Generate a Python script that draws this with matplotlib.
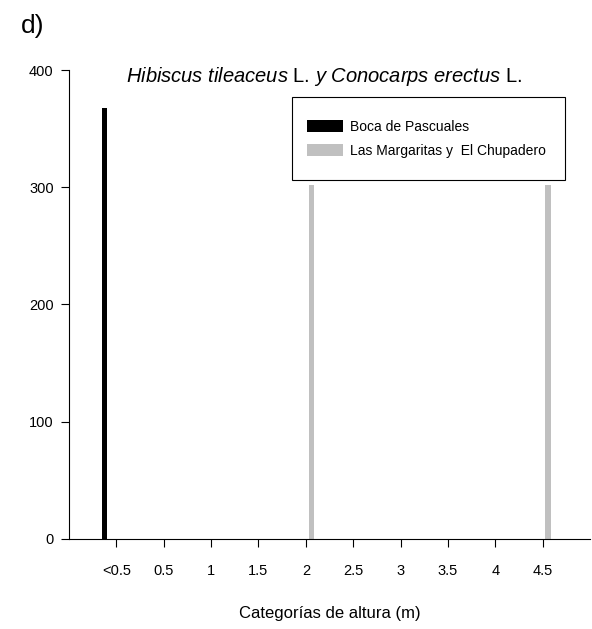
import matplotlib.pyplot as plt
from matplotlib.patches import Rectangle
import numpy as np

plt.rcParams['font.family'] = ['Liberation Sans', 'DejaVu Sans']
plt.rcParams['mathtext.fontset'] = 'custom'
plt.rcParams['mathtext.rm'] = 'Liberation Sans'
plt.rcParams['mathtext.it'] = 'Liberation Sans:italic'

# height categories and counts per site
categorias = ['<0.5', '0.5', '1', '1.5', '2', '2.5', '3', '3.5', '4', '4.5']
boca_pascuales = [368, 0, 0, 0, 0, 0, 0, 0, 0, 0]
margaritas_chupadero = [0, 0, 0, 0, 302, 0, 0, 0, 0, 302]

x = np.arange(len(categorias))

W, H = 592, 629
fig = plt.figure(figsize=(W / 100, H / 100), dpi=100)
ax = fig.add_axes([0.1166, 0.1431, 0.88, 0.7456])

ax.bar(x - 0.25, boca_pascuales, width=0.12, color='black', label='Boca de Pascuales')
ax.bar(x + 0.12, margaritas_chupadero, width=0.12, color='#c0c0c0',
       label='Las Margaritas y  El Chupadero')

ax.set_xlim(-1, 10)
ax.set_ylim(0, 400)
ax.set_xticks(x)
ax.set_xticklabels(categorias, fontsize=10.5)
ax.set_yticks([0, 100, 200, 300, 400])
ax.tick_params(axis='y', labelsize=10.5, length=6, pad=5)
ax.tick_params(axis='x', length=6, pad=12)
for s in ['top', 'right']:
    ax.spines[s].set_visible(False)
ax.spines['left'].set_linewidth(0.8)
ax.spines['bottom'].set_linewidth(0.8)

ax.set_xlabel('Categorías de altura (m)', fontsize=12, labelpad=20)

fig.text(0.548, 0.878, r'$\mathit{Hibiscus\ tileaceus}$ L. $\mathit{y\ Conocarps\ erectus}$ L.',
         fontsize=14.5, ha='center', va='center')
fig.text(0.035, 0.958, 'd)', fontsize=19, ha='left', va='center')

# legend box drawn separately so padding matches the original
fig.patches.append(Rectangle((292 / W, 1 - 180 / H), 273 / W, 83 / H,
                             transform=fig.transFigure, fill=False,
                             edgecolor='black', linewidth=0.8))
ax.legend(loc='upper left', bbox_to_anchor=(301 / W, 1 - 114 / H),
          bbox_transform=fig.transFigure, fontsize=10, frameon=False,
          borderpad=0.4, handlelength=2.6, handleheight=1.0,
          handletextpad=0.5, labelspacing=0.75, borderaxespad=0)

fig.savefig('out.png', dpi=100)
